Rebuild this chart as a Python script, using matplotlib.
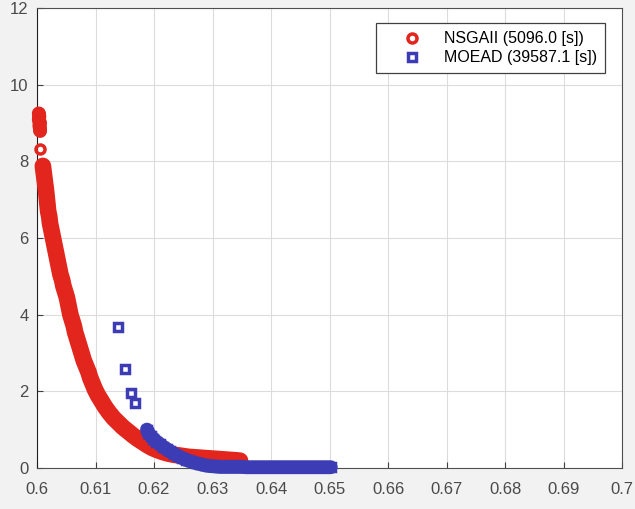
import matplotlib.pyplot as plt
import numpy as np
from matplotlib.ticker import FormatStrFormatter

plt.rcParams['font.family'] = ['Liberation Sans', 'DejaVu Sans']

# NSGAII front (x, y)
nsga_x = [0.6003, 0.6004, 0.6003, 0.6005, 0.6004, 0.6005, 0.6005,
          0.6005,
          0.6010, 0.6011, 0.6012, 0.6013, 0.6014, 0.6015, 0.6016, 0.6017,
          0.6018, 0.6019, 0.6021, 0.6022, 0.6024, 0.6026, 0.6028, 0.6030,
          0.6032, 0.6034, 0.6036, 0.6038, 0.6040, 0.6043, 0.6045, 0.6048,
          0.6051, 0.6053, 0.6055, 0.6057, 0.6060, 0.6063, 0.6065, 0.6068,
          0.6071, 0.6074, 0.6077, 0.6080, 0.6084, 0.6088, 0.6091, 0.6095,
          0.6099, 0.6104, 0.6110, 0.6116, 0.6123, 0.6131, 0.6139, 0.6147,
          0.6156, 0.6164, 0.6172, 0.6180, 0.6188, 0.6196, 0.6205, 0.6214,
          0.6223, 0.6232, 0.6241, 0.6250, 0.6259, 0.6268, 0.6277, 0.6286,
          0.6295, 0.6304, 0.6313, 0.6322, 0.6331, 0.6340, 0.6347]
nsga_y = [9.25, 9.17, 9.09, 9.01, 8.93, 8.86, 8.80,
          8.32,
          7.88, 7.76, 7.64, 7.52, 7.40, 7.28, 7.15, 7.00,
          6.85, 6.70, 6.55, 6.40, 6.25, 6.10, 5.95, 5.80,
          5.65, 5.50, 5.35, 5.20, 5.05, 4.90, 4.75, 4.60,
          4.45, 4.30, 4.15, 4.00, 3.85, 3.70, 3.55, 3.40,
          3.25, 3.10, 2.95, 2.80, 2.65, 2.50, 2.35, 2.20,
          2.05, 1.90, 1.75, 1.60, 1.45, 1.30, 1.18, 1.06,
          0.95, 0.85, 0.76, 0.68, 0.60, 0.53, 0.47, 0.42,
          0.38, 0.35, 0.33, 0.31, 0.29, 0.28, 0.27, 0.26,
          0.25, 0.24, 0.23, 0.22, 0.21, 0.20, 0.19]

# MOEAD front
moead_x = [0.6138, 0.6150, 0.6160, 0.6167,
           0.6188, 0.6190, 0.6194, 0.6199, 0.6204, 0.6210, 0.6216, 0.6222,
           0.6228, 0.6234, 0.6241, 0.6248, 0.6255, 0.6263, 0.6271, 0.6279,
           0.6287, 0.6296, 0.6305, 0.6313, 0.6322, 0.6331, 0.6340, 0.6349,
           0.6358, 0.6367, 0.6376, 0.6385, 0.6394, 0.6403, 0.6412, 0.6421,
           0.6430, 0.6439, 0.6448, 0.6457, 0.6466, 0.6475, 0.6484, 0.6493,
           0.6502]
moead_y = [3.69, 2.59, 1.96, 1.70,
           1.00, 0.92, 0.84, 0.76, 0.69, 0.62, 0.55, 0.49,
           0.43, 0.37, 0.31, 0.26, 0.21, 0.17, 0.13, 0.10,
           0.07, 0.05, 0.04, 0.03, 0.03, 0.03, 0.03, 0.03,
           0.02, 0.02, 0.02, 0.02, 0.02, 0.02, 0.02, 0.02,
           0.02, 0.02, 0.02, 0.02, 0.02, 0.02, 0.02, 0.02,
           0.02]

labels = ['NSGAII (5096.0 [s])', 'MOEAD (39587.1 [s])']
red = '#e2251d'
blue = '#3c3cb4'

fig = plt.figure(figsize=(6.35, 5.09), dpi=100, facecolor='#f2f2f2')
ax = fig.add_axes([0.0583, 0.0806, 0.9213, 0.9037])
ax.set_facecolor('white')

# the dense point clouds form solid bands -> thick line under the markers
band = dict(solid_capstyle='round', solid_joinstyle='round', clip_on=False)
ax.plot(nsga_x[:7], nsga_y[:7], '-', color=red, lw=10, zorder=3, **band)
ax.plot(nsga_x[8:], nsga_y[8:], '-', color=red, lw=12, zorder=3, **band)
ax.plot(nsga_x, nsga_y, 'o', color=red, mfc='none', ms=6.5, mew=2.5,
        label=labels[0], clip_on=False, zorder=3)

ax.plot(moead_x[4:], moead_y[4:], '-', color=blue, lw=10, zorder=4, **band)
ax.plot(moead_x, moead_y, 's', color=blue, mfc='none', ms=5.8, mew=2.5,
        label=labels[1], clip_on=False, zorder=4)

ax.set_xlim(0.6, 0.7)
ax.set_ylim(0, 12)
ax.set_xticks(np.arange(0.6, 0.7001, 0.01))
ax.set_yticks(np.arange(0, 13, 2))
ax.xaxis.set_major_formatter(FormatStrFormatter('%g'))
ax.grid(True, color='#dcdcdc', linewidth=0.8)
ax.set_axisbelow(True)
ax.tick_params(direction='in', length=4, colors='#404040', labelsize=12,
               labelcolor='#4a4a4a')
ax.tick_params(axis='x', pad=10)
ax.tick_params(axis='y', pad=6)
for s in ax.spines.values():
    s.set_color('#505050')
    s.set_linewidth(0.8)
ax.spines['left'].set_color('#202020')

leg = ax.legend(loc='upper right', bbox_to_anchor=(0.971, 0.967), fontsize=11.5,
                fancybox=False, framealpha=1, edgecolor='#404040',
                handlelength=3.5, handletextpad=0.27, borderpad=0.5,
                labelspacing=0.25, borderaxespad=0)
leg.get_frame().set_linewidth(0.9)

fig.savefig('out.png', dpi=100, facecolor=fig.get_facecolor())
